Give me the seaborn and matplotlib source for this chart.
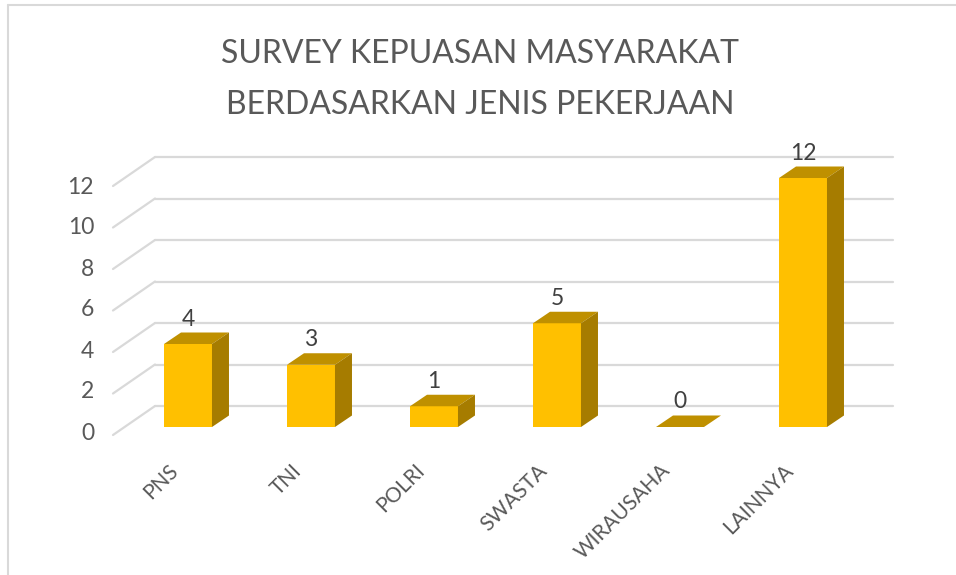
import numpy as np
import pandas as pd
import matplotlib
matplotlib.use('Agg')
import matplotlib.pyplot as plt
import seaborn as sns
from matplotlib.patches import Polygon
from matplotlib.lines import Line2D

# data
jobs = ['PNS', 'TNI', 'POLRI', 'SWASTA', 'WIRAUSAHA', 'LAINNYA']
counts = [4, 3, 1, 5, 0, 12]
y_ticks = [0, 2, 4, 6, 8, 10, 12]
title_lines = ['SURVEY KEPUASAN MASYARAKAT', 'BERDASARKAN JENIS PEKERJAAN']

sns.set_style('white')
plt.rcParams['font.family'] = ['Lato', 'DejaVu Sans']

W, H = 956, 575
fig = plt.figure(figsize=(W / 100, H / 100), dpi=100)
# axes = front plane of the bars (pixel based placement)
ax = fig.add_axes([126.5 / W, (H - 427) / H, 738 / W, 249 / H])

df = pd.DataFrame({'job': jobs, 'count': counts})
sns.barplot(data=df, x='job', y='count', color='#FFC000', saturation=1,
            width=0.39, ax=ax, zorder=3, edgecolor='none')

ax.set_xlim(-0.5, 5.5)
ax.set_ylim(0, 12)

# pseudo 3d look
px_x, px_y = 123.0, 20.75     # pixels per data unit
ddx, ddy = 17 / px_x, 11.5 / px_y   # bar depth
for p in ax.patches:
    x0, w, h = p.get_x(), p.get_width(), p.get_height()
    top = Polygon([(x0, h), (x0 + w, h), (x0 + w + ddx, h + ddy), (x0 + ddx, h + ddy)],
                  closed=True, facecolor='#BF9000', edgecolor='none', zorder=4, clip_on=False)
    ax.add_patch(top)
    if h > 0:
        side = Polygon([(x0 + w, 0), (x0 + w, h), (x0 + w + ddx, h + ddy), (x0 + w + ddx, ddy)],
                       closed=True, facecolor='#A67C00', edgecolor='none', zorder=4, clip_on=False)
        ax.add_patch(side)

# back wall gridlines + side wall diagonals
back_dy = 21 / px_y
front_dy = -8 / px_y
xb0, xb1 = (155 - 188) / px_x, (893 - 188) / px_x
xf = (113 - 188) / px_x
gcol = '#D9D9D9'
for v in y_ticks:
    ax.plot([xb0, xb1], [v + back_dy, v + back_dy], color=gcol, lw=1.6, zorder=1, clip_on=False)
    ax.plot([xf, xb0], [v + front_dy, v + back_dy], color=gcol, lw=1.6, zorder=1, clip_on=False)
    ax.text((94 - 188) / px_x, (v * 20.5 - 6) / px_y, str(v), ha='right', va='center',
            fontsize=16.5, color='#595959')

# value labels
for i, c in enumerate(counts):
    ax.annotate(str(c), (i, c), xytext=(0, 18), textcoords='offset points',
                ha='center', va='center', fontsize=16.5, color='#404040', zorder=5)

# category labels, slanted, ending a little left of the bar centre
for i, job in enumerate(jobs):
    ax.annotate(job, (i, 0), xytext=(-4, -24), textcoords='offset points',
                rotation=45, ha='right', va='top', fontsize=15, color='#595959')
ax.set_xticks([])
ax.set_yticks([])
ax.set_xlabel('')
ax.set_ylabel('')
for s in ax.spines.values():
    s.set_visible(False)
ax.patch.set_alpha(0)

# title, two lines placed on their baselines
for line, base in zip(title_lines, [63, 114]):
    fig.text(0.5 + 2 / W, 1 - base / H, line, ha='center', va='baseline',
             fontsize=23, color='#595959')

# chart area border (only top and left visible)
fig.add_artist(Line2D([7.5 / W, 7.5 / W], [0, 1 - 5 / H], color=gcol, lw=1.5))
fig.add_artist(Line2D([7.5 / W, 1], [1 - 5 / H, 1 - 5 / H], color=gcol, lw=1.5))

fig.savefig('out.png', dpi=100)
